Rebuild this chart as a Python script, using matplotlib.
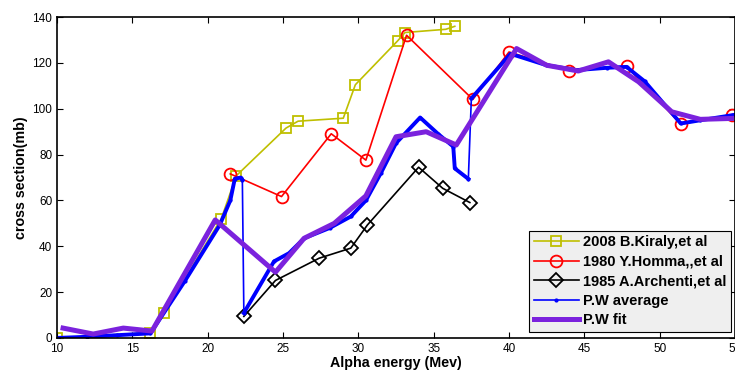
import numpy as np
import matplotlib.pyplot as plt

plt.rcParams['font.family'] = ['Liberation Sans', 'DejaVu Sans']

# 2008 B.Kiraly et al
kir_x = [10.0, 16.2, 17.1, 20.9, 21.9, 25.2, 26.0, 29.0, 29.8, 32.6, 33.1, 35.8, 36.4]
kir_y = [0.0, 2.3, 11.0, 52.0, 70.8, 91.6, 94.6, 95.9, 110.5, 129.6, 133.3, 134.7, 136.0]

# 1980 Y.Homma et al
hom_x = [21.5, 24.9, 28.2, 30.5, 33.2, 37.6, 40.0, 44.0, 47.8, 51.4, 54.8]
hom_y = [71.6, 61.7, 89.1, 77.6, 132.1, 104.1, 124.8, 116.7, 118.6, 93.3, 97.5]

# 1985 A.Archenti et al
arc_x = [22.4, 24.5, 27.4, 29.5, 30.6, 34.0, 35.6, 37.4]
arc_y = [9.4, 25.1, 34.8, 39.2, 49.3, 74.5, 65.3, 59.1]

# P.W average
avg_x = [10.0, 12.0, 14.0, 16.2, 18.5, 20.8, 21.5, 21.8, 22.2, 22.3, 22.4, 24.4, 25.4,
         26.4, 28.1, 29.5, 30.5, 31.5, 32.5, 34.1, 35.3, 36.3, 36.4, 37.3, 37.5, 40.1,
         42.5, 44.5, 46.5, 47.8, 49.0, 51.4, 52.7, 54.9]
avg_y = [0.0, 0.5, 1.2, 2.0, 25.0, 49.3, 60.0, 69.5, 70.0, 69.0, 10.9, 33.4, 37.0,
         43.5, 48.0, 53.0, 60.0, 72.0, 85.0, 96.2, 89.0, 83.5, 74.0, 69.4, 104.5, 124.0,
         119.0, 116.9, 117.9, 118.3, 112.0, 93.6, 95.0, 97.3]
avg_jumps = [9, 23]  # segments after these indices are the thin vertical drops/rises

# P.W fit
fit_x = [10.4, 12.4, 14.4, 16.3, 20.5, 24.5, 26.4, 28.4, 30.5, 32.5, 34.5, 36.5,
         40.5, 42.5, 44.6, 46.6, 48.6, 50.8, 52.7, 54.8]
fit_y = [4.3, 1.7, 4.3, 3.0, 51.5, 28.7, 43.5, 50.0, 62.0, 87.8, 90.0, 84.2,
         126.3, 119.0, 116.5, 120.5, 111.8, 98.7, 95.4, 95.8]

fig = plt.figure(figsize=(7.35, 3.73), dpi=100)
ax = fig.add_axes([0.0776, 0.094, 0.9224, 0.86])

ax.plot(kir_x, kir_y, '-s', color='#bfbf00', mfc='none', ms=7.5, mew=1.3, lw=1.2,
        label='2008 B.Kiraly,et al')
ax.plot(hom_x, hom_y, '-o', color='#ff0000', mfc='none', ms=8.5, mew=1.3, lw=1.2,
        label='1980 Y.Homma,,et al')
ax.plot(arc_x, arc_y, '-D', color='k', mfc='none', ms=7, mew=1.3, lw=1.2,
        label='1985 A.Archenti,et al')

# average: thin line everywhere, thick where the data are dense
ax.plot(avg_x, avg_y, '-', color='#0000ff', lw=1.2, marker='.', ms=4,
        label='P.W average')
tx = list(avg_x)
ty = list(avg_y)
for j in sorted(avg_jumps, reverse=True):
    tx.insert(j + 1, np.nan)
    ty.insert(j + 1, np.nan)
ax.plot(tx, ty, '-', color='#0000ff', lw=2.8)

ax.plot(fit_x, fit_y, '-', color='#7b22dd', lw=3.6, label='P.W fit')

ax.set_xlim(10, 55)
ax.set_ylim(0, 140)
ax.set_xticks(range(10, 56, 5))
ax.set_yticks(range(0, 141, 20))
ax.tick_params(direction='in', top=True, right=True, labelsize=8.5, length=4, width=0.8)
for s in ax.spines.values():
    s.set_linewidth(1.2)

ax.set_xlabel('Alpha energy (Mev)', fontsize=10.3, fontweight='bold', labelpad=1)
ax.set_ylabel('cross section(mb)', fontsize=10.3, fontweight='bold', labelpad=3)

leg = ax.legend(loc='lower right', bbox_to_anchor=(0.994, 0.019),
                prop={'weight': 'bold', 'size': 10.5}, numpoints=1, handlelength=3.1,
                handletextpad=0.3, labelspacing=0.38, borderpad=0.3,
                fancybox=False, framealpha=1, borderaxespad=0.0)
leg.get_frame().set_facecolor('#efefef')
leg.get_frame().set_edgecolor('k')
leg.get_frame().set_linewidth(0.8)

fig.savefig('out.png', dpi=100)
